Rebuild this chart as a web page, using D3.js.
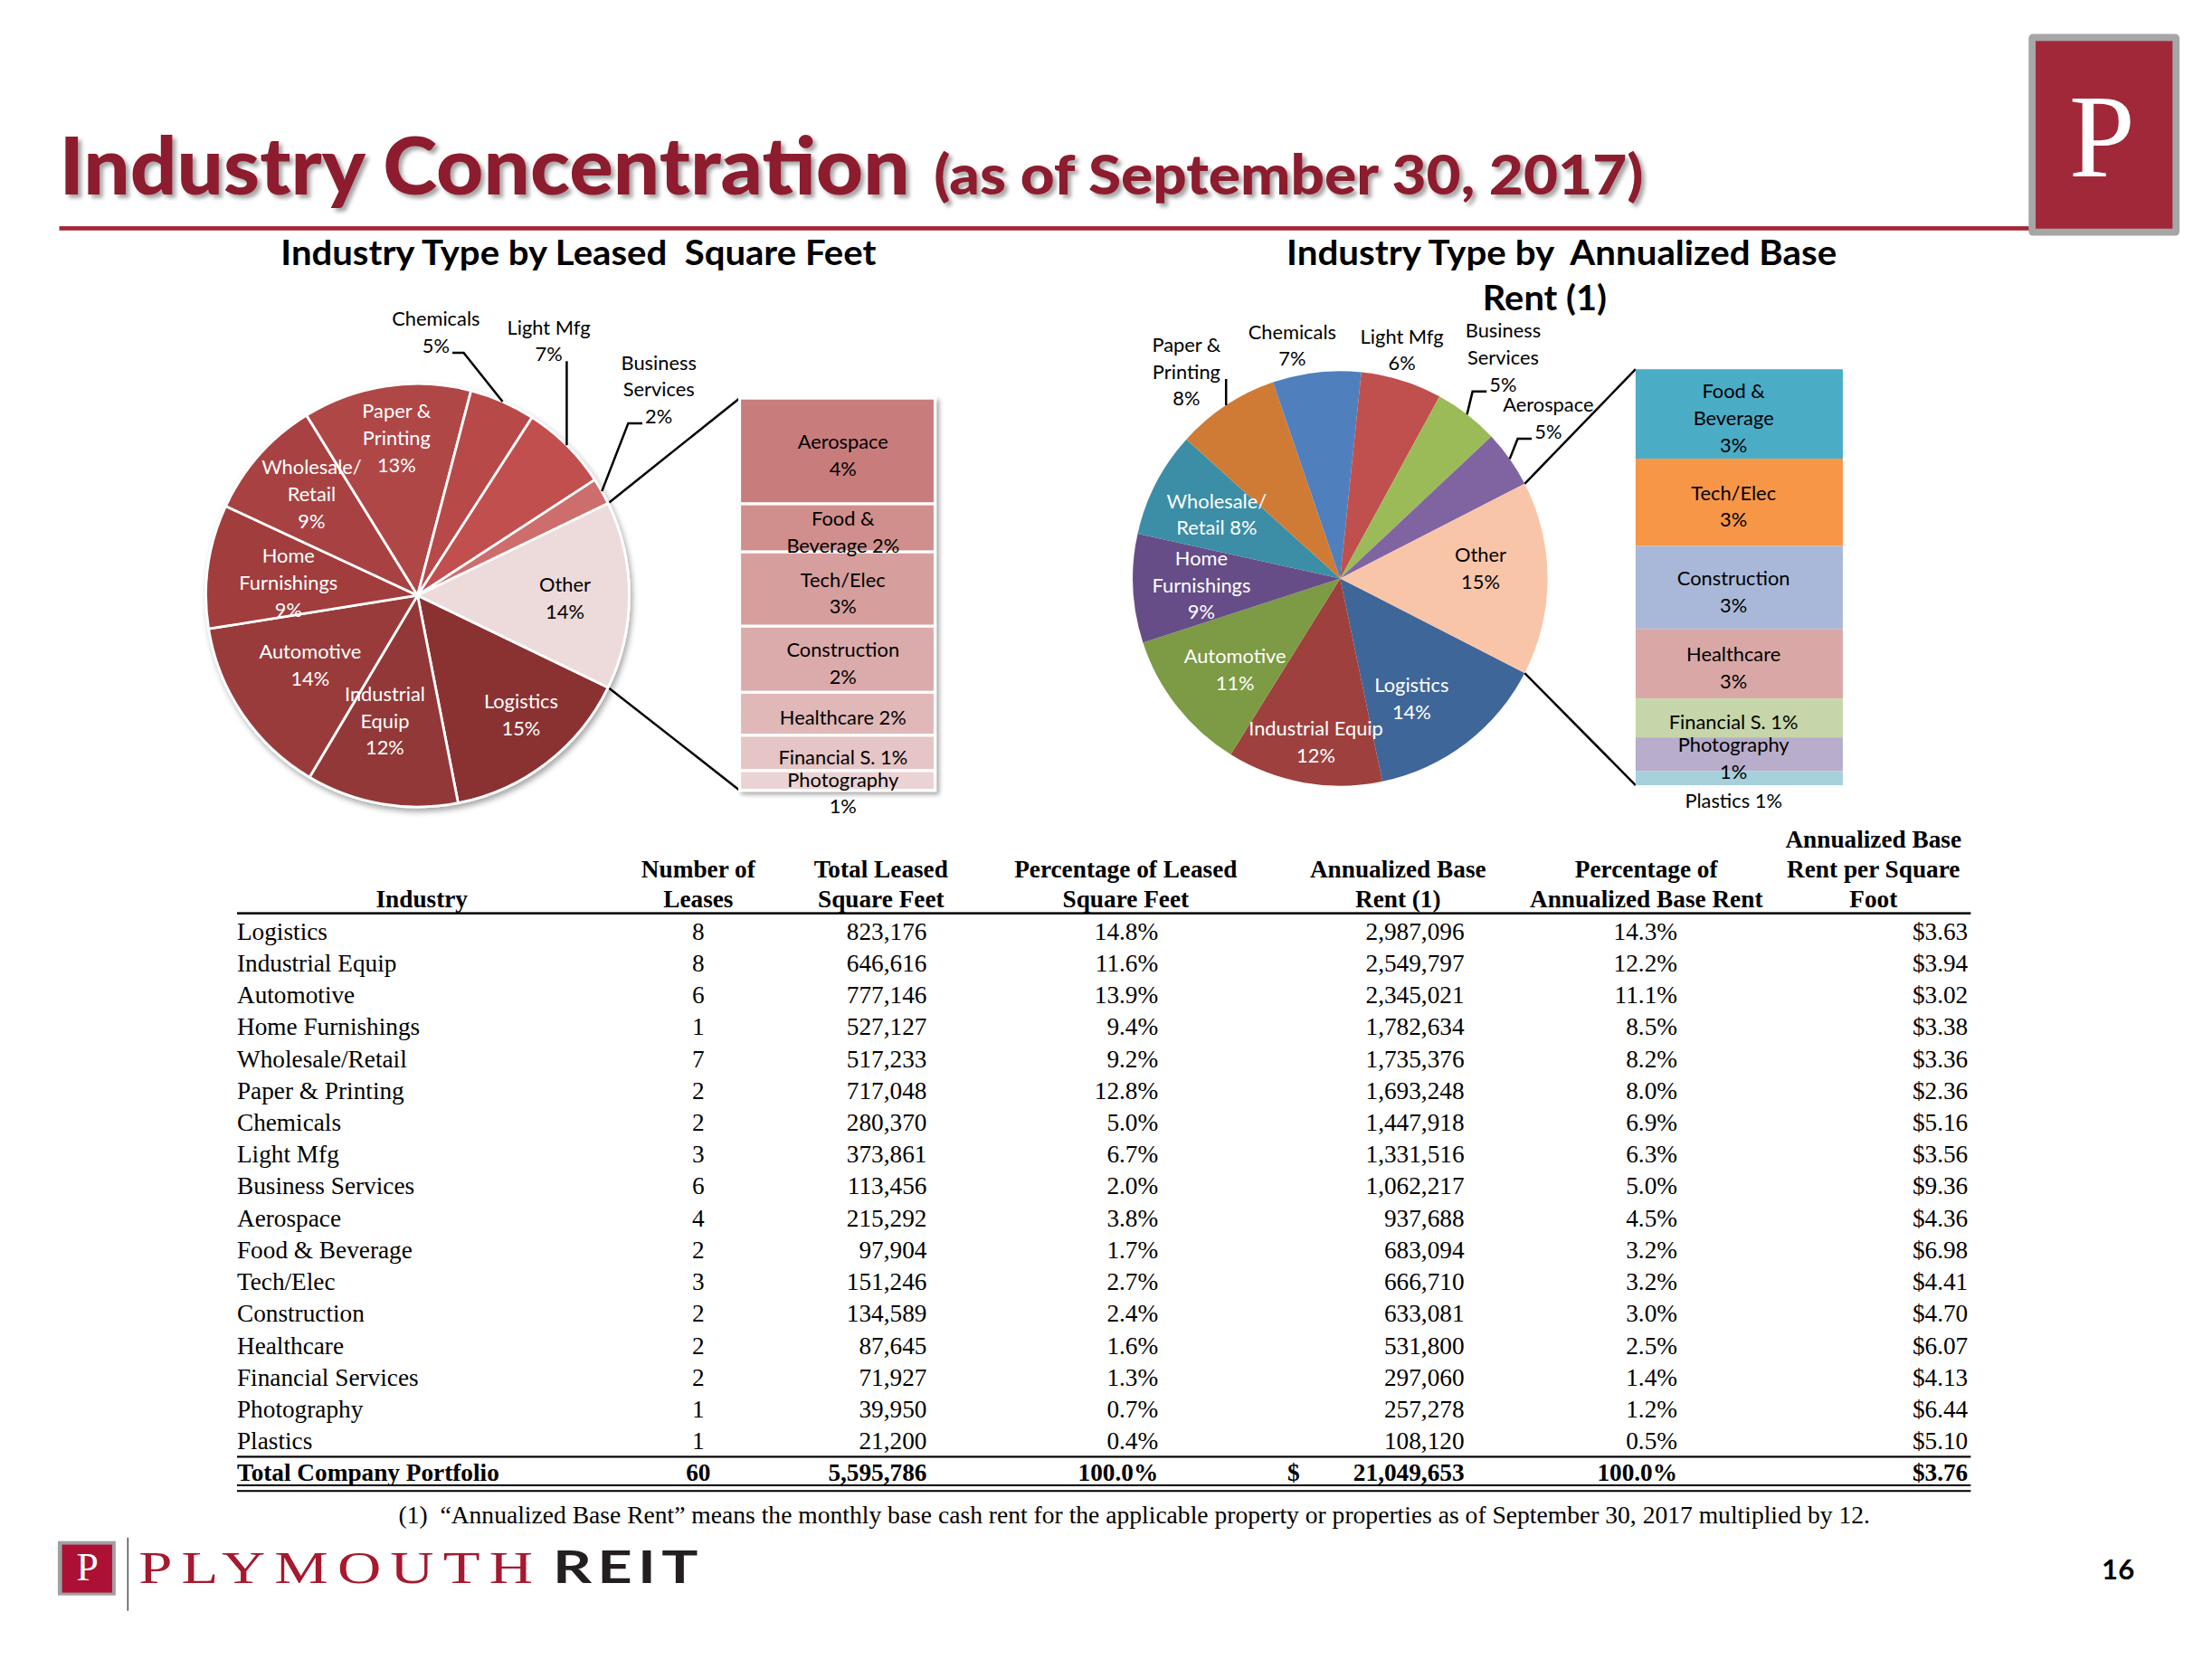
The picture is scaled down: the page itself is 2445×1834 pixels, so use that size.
<!DOCTYPE html>
<html>
<head>
  <meta charset="utf-8">
  <title>Industry Concentration</title>
  <script src="https://d3js.org/d3.v7.min.js"></script>
  <style>
    body { margin: 0; background: #fff; }
    svg { display: block; }
    text { white-space: pre; }
  </style>
</head>
<body>
<svg id="page"></svg>
<script>
// ---- table data (as printed) ----
var industries = ["Logistics", "Industrial Equip", "Automotive", "Home Furnishings", "Wholesale/Retail",
  "Paper & Printing", "Chemicals", "Light Mfg", "Business Services", "Aerospace", "Food & Beverage",
  "Tech/Elec", "Construction", "Healthcare", "Financial Services", "Photography", "Plastics"];
var leases  = [8, 8, 6, 1, 7, 2, 2, 3, 6, 4, 2, 3, 2, 2, 2, 1, 1];
var sqft    = [823176, 646616, 777146, 527127, 517233, 717048, 280370, 373861, 113456, 215292, 97904,
  151246, 134589, 87645, 71927, 39950, 21200];
var sqftPct = [14.8, 11.6, 13.9, 9.4, 9.2, 12.8, 5.0, 6.7, 2.0, 3.8, 1.7, 2.7, 2.4, 1.6, 1.3, 0.7, 0.4];
var abr     = [2987096, 2549797, 2345021, 1782634, 1735376, 1693248, 1447918, 1331516, 1062217, 937688,
  683094, 666710, 633081, 531800, 297060, 257278, 108120];
var abrPct  = [14.3, 12.2, 11.1, 8.5, 8.2, 8.0, 6.9, 6.3, 5.0, 4.5, 3.2, 3.2, 3.0, 2.5, 1.4, 1.2, 0.5];
var abrPsf  = [3.63, 3.94, 3.02, 3.38, 3.36, 2.36, 5.16, 3.56, 9.36, 4.36, 6.98, 4.41, 4.70, 6.07, 4.13, 6.44, 5.10];
var totalRow = [60, 5595786, 100.0, 21049653, 100.0, 3.76];

var headers = [["Industry"], ["Number of", "Leases"], ["Total Leased", "Square Feet"],
  ["Percentage of Leased", "Square Feet"], ["Annualized Base", "Rent (1)"],
  ["Percentage of", "Annualized Base Rent"], ["Annualized Base", "Rent per Square", "Foot"]];

// ---- chart labels (text) ----
var sqftPieLabels = [["Logistics", "15%"], ["Industrial", "Equip", "12%"], ["Automotive", "14%"],
  ["Home", "Furnishings", "9%"], ["Wholesale/", "Retail", "9%"], ["Paper &", "Printing", "13%"],
  ["Chemicals", "5%"], ["Light Mfg", "7%"], ["Business", "Services", "2%"], ["Other", "14%"]];
var sqftBarLabels = [["Aerospace", "4%"], ["Food &", "Beverage 2%"], ["Tech/Elec", "3%"],
  ["Construction", "2%"], ["Healthcare 2%"], ["Financial S. 1%"], ["Photography", "1%"]];
var abrPieLabels = [["Logistics", "14%"], ["Industrial Equip", "12%"], ["Automotive", "11%"],
  ["Home", "Furnishings", "9%"], ["Wholesale/", "Retail 8%"], ["Paper &", "Printing", "8%"],
  ["Chemicals", "7%"], ["Light Mfg", "6%"], ["Business", "Services", "5%"], ["Aerospace", "5%"],
  ["Other", "15%"]];
var abrBarLabels = [["Food &", "Beverage", "3%"], ["Tech/Elec", "3%"], ["Construction", "3%"],
  ["Healthcare", "3%"], ["Financial S. 1%"], ["Photography", "1%"], ["Plastics 1%"]];

// colours
var sqftPieColors = ["#8a3333", "#933838", "#9a3b3b", "#a13e3e", "#a84242", "#b04646", "#b84a4a",
  "#c0504d", "#cd6e6c", "#eddada"];
var sqftBarColors = ["#c97c7b", "#d08f8d", "#d69e9d", "#dbabab", "#e0b8b8", "#e5c5c5", "#ebd3d3"];
var abrPieColors = ["#3f6699", "#9e403e", "#7d9a44", "#664d87", "#3b8ea5", "#cf7b36", "#4f80bd",
  "#c0504d", "#9bbb59", "#8064a2", "#f9c5a9"];
var abrBarColors = ["#4bacc6", "#f79646", "#a9b8d8", "#d9a8a6", "#c6d6aa", "#b8adca", "#a5d0dc"];

var W = 1568, H = 1176;
var svg = d3.select("#page")
  .attr("width", 2445).attr("height", 1834)
  .attr("viewBox", "0 0 " + W + " " + H)
  .style("font-family", "Lato, 'Open Sans', sans-serif");
svg.append("rect").attr("width", W).attr("height", H).attr("fill", "#fff");

var defs = svg.append("defs");
function shadow(id, dx, dy, sd, op) {
  var f = defs.append("filter").attr("id", id)
    .attr("x", "-20%").attr("y", "-20%").attr("width", "140%").attr("height", "140%");
  f.append("feDropShadow").attr("dx", dx).attr("dy", dy).attr("stdDeviation", sd)
    .attr("flood-color", "#000").attr("flood-opacity", op);
}
shadow("titleShadow", 2.5, 2.5, 1.3, 0.35);
shadow("pieShadow", 1.5, 2.5, 2.2, 0.35);
shadow("barShadow", 2, 2, 1.8, 0.35);

// ---- page title ----
svg.append("text").attr("x", 42).attr("y", 138)
  .attr("font-size", 56).attr("font-weight", 900).attr("fill", "#8c1d2f")
  .attr("textLength", 603).attr("lengthAdjust", "spacingAndGlyphs")
  .attr("filter", "url(#titleShadow)")
  .text("Industry Concentration");
svg.append("text").attr("x", 662).attr("y", 138)
  .attr("font-size", 39).attr("font-weight", 900).attr("fill", "#8c1d2f")
  .attr("textLength", 503).attr("lengthAdjust", "spacingAndGlyphs")
  .attr("filter", "url(#titleShadow)")
  .text("(as of September 30, 2017)");
svg.append("rect").attr("x", 42).attr("y", 160.3).attr("width", 1398).attr("height", 3).attr("fill", "#a32638");

// corner logo
svg.append("rect").attr("x", 1438).attr("y", 24).attr("width", 107).attr("height", 143).attr("rx", 3).attr("fill", "#a6a6a6");
svg.append("rect").attr("x", 1443).attr("y", 29).attr("width", 97).attr("height", 133).attr("fill", "#a02838");
svg.append("text").attr("x", 1490).attr("y", 125).attr("text-anchor", "middle")
  .attr("font-family", "'Liberation Serif', 'DejaVu Serif', serif").attr("font-size", 84)
  .attr("fill", "#fff").text("P");

// chart titles
svg.append("text").attr("x", 199).attr("y", 188).attr("font-size", 24).attr("font-weight", 700)
  .attr("textLength", 422).attr("lengthAdjust", "spacingAndGlyphs")
  .text("Industry Type by Leased  Square Feet");
svg.append("text").attr("x", 912).attr("y", 188).attr("font-size", 24).attr("font-weight", 700)
  .attr("textLength", 390).attr("lengthAdjust", "spacingAndGlyphs")
  .text("Industry Type by  Annualized Base");
svg.append("text").attr("x", 1051).attr("y", 220).attr("font-size", 24).attr("font-weight", 700)
  .attr("textLength", 88).attr("lengthAdjust", "spacingAndGlyphs")
  .text("Rent (1)");

// multi-line centred label
function block(g, lines, x, y, fill) {
  var lh = 19;
  var t = g.append("g").attr("font-size", 14).attr("fill", fill);
  lines.forEach(function(s, k) {
    t.append("text").attr("x", x).attr("y", y + (k - (lines.length - 1) / 2) * lh)
      .attr("dy", "0.35em").attr("text-anchor", "middle").text(s);
  });
  return t;
}

// ---- pie of pie ----
function pieOfPie(o) {
  var g = svg.append("g");
  var total = d3.sum(o.values);
  var otherAngle = o.values[o.values.length - 1] / total * 2 * Math.PI;
  var start = Math.PI / 2 + otherAngle / 2;   // "Other" centred on the right
  var arcs = d3.pie().sort(null).startAngle(start).endAngle(start + 2 * Math.PI)(o.values);
  var color = d3.scaleOrdinal().domain(d3.range(o.values.length)).range(o.colors);
  var arc = d3.arc().innerRadius(0).outerRadius(o.r);
  var labelArc = d3.arc().innerRadius(o.r * 0.67).outerRadius(o.r * 0.67);
  function pt(a, rr) { return [o.cx + rr * Math.sin(a), o.cy - rr * Math.cos(a)]; }

  // connector lines to the bar
  var p0 = pt(Math.PI / 2 - otherAngle / 2, o.r), p1 = pt(Math.PI / 2 + otherAngle / 2, o.r);
  var y = d3.scaleLinear().domain([0, d3.sum(o.barValues)]).range([o.barTop, o.barBottom]);
  g.append("path")
    .attr("d", "M" + p0 + "L" + [o.barX, y(0)] + "M" + p1 + "L" + [o.barX, y(d3.sum(o.barValues))])
    .attr("stroke", "#000").attr("stroke-width", 1.6).attr("fill", "none");

  var pg = g.append("g").attr("transform", "translate(" + o.cx + "," + o.cy + ")");
  if (o.shadow) pg.attr("filter", "url(#pieShadow)");
  pg.selectAll("path").data(arcs).join("path")
    .attr("d", arc)
    .attr("fill", function(d, i) { return color(i); })
    .attr("stroke", o.sliceStroke ? "#fff" : "none")
    .attr("stroke-width", o.sliceStroke ? 1.8 : 0)
    .attr("stroke-linejoin", "round");

  // stacked bar of the split-out items
  var cum = d3.cumsum(o.barValues);
  var bars = o.barValues.map(function(v, i) { return { i: i, y0: i ? cum[i - 1] : 0, y1: cum[i] }; });
  var bg = g.append("g");
  if (o.shadow) bg.attr("filter", "url(#barShadow)");
  bg.selectAll("rect").data(bars).join("rect")
    .attr("x", o.barX).attr("width", o.barW)
    .attr("y", function(d) { return y(d.y0); })
    .attr("height", function(d) { return y(d.y1) - y(d.y0); })
    .attr("fill", function(d) { return o.barColors[d.i]; })
    .attr("stroke", o.barStroke ? "#fff" : "none").attr("stroke-width", o.barStroke ? 2 : 0);

  bars.forEach(function(d) {
    var lab = o.barLabels[d.i];
    var nudge = o.barNudge[lab[0]] || 0;
    block(g, lab, o.barX + o.barW / 2 + o.barLabelDx, (y(d.y0) + y(d.y1)) / 2 + 3 + nudge, "#000");
  });

  // slice labels
  arcs.forEach(function(d, i) {
    var lab = o.labels[i];
    var out = o.outside[lab[0]];
    if (!out) {
      var c = labelArc.centroid(d);
      var nd = o.insideNudge[lab[0]] || [0, 0];
      var fill = d3.hsl(color(i)).l > 0.7 ? "#000" : "#fff";
      block(g, lab, o.cx + c[0] + nd[0], o.cy + c[1] + nd[1], fill);
      return;
    }
    var bx = o.cx + out[0], by = o.cy + out[1];
    var t = block(g, lab, bx, by, "#000");
    var mid = (d.startAngle + d.endAngle) / 2;
    var e = pt(mid, o.r);
    if (out[2] === "v") {
      var ly = by + (out[3] - (lab.length - 1) / 2) * 19 + 5;
      g.append("line").attr("x1", e[0]).attr("x2", e[0]).attr("y1", ly).attr("y2", e[1])
        .attr("stroke", "#000").attr("stroke-width", 1.6);
    } else if (out[2] === "elbow") {
      var last = t.selectAll("text").nodes().pop();
      var w = last.getComputedTextLength();
      var yy = by + ((lab.length - 1) / 2) * 19 + 5;
      var sx = e[0] > bx ? bx + w / 2 + 2 : bx - w / 2 - 2;
      var ex = e[0] > bx ? sx + 8 : sx - 10;
      g.append("path").attr("d", "M" + [sx, yy] + "L" + [ex, yy] + "L" + e)
        .attr("stroke", "#000").attr("stroke-width", 1.6).attr("fill", "none");
    }
  });
}

// left: leased square feet (Plastics is not in this chart)
var sqftOther = sqft.slice(9, 16);
pieOfPie({
  cx: 296, cy: 422, r: 150,
  values: sqft.slice(0, 9).concat([d3.sum(sqftOther)]),
  colors: sqftPieColors, labels: sqftPieLabels,
  barValues: sqftOther, barColors: sqftBarColors, barLabels: sqftBarLabels,
  barX: 524.3, barW: 138.5, barTop: 282.2, barBottom: 560.2, barLabelDx: 4,
  barNudge: { "Photography": 6 },
  insideNudge: {
    "Logistics": [12, 5], "Industrial": [-6, -10], "Automotive": [7, -7], "Home": [8, 5],
    "Wholesale/": [0, -5], "Paper &": [0, -12], "Other": [4, 2]
  },
  outside: {
    "Chemicals": [13, -186.5, "elbow"],
    "Light Mfg": [93, -180.5, "v", 1],
    "Business": [171, -146, "elbow"]
  },
  shadow: true, sliceStroke: true, barStroke: true
});

// right: annualized base rent
var abrOther = abr.slice(10, 17);
pieOfPie({
  cx: 950, cy: 410, r: 147,
  values: abr.slice(0, 10).concat([d3.sum(abrOther)]),
  colors: abrPieColors, labels: abrPieLabels,
  barValues: abrOther, barColors: abrBarColors, barLabels: abrBarLabels,
  barX: 1159.4, barW: 146.9, barTop: 261.7, barBottom: 556.6, barLabelDx: -4,
  barNudge: { "Plastics 1%": 13 },
  insideNudge: {
    "Logistics": [-9, 7], "Industrial Equip": [0, 19], "Automotive": [3, 4], "Other": [1, -7]
  },
  outside: {
    "Paper &": [-109, -146.4, "v", 1],
    "Chemicals": [-34, -165.2, "none"],
    "Light Mfg": [43.8, -162, "none"],
    "Business": [115.5, -156.5, "elbow"],
    "Aerospace": [147.5, -113.5, "elbow"]
  },
  shadow: false, sliceStroke: false, barStroke: false
});

// ---- table ----
var tg = svg.append("g")
  .attr("font-family", "'Liberation Serif', 'Times New Roman', serif")
  .attr("font-size", 17.5).attr("fill", "#000");
var headCenters = [299, 495, 624.5, 798, 991, 1167, 1328];
headers.forEach(function(h, c) {
  h.forEach(function(s, k) {
    tg.append("text").attr("x", headCenters[c]).attr("y", 643 - (h.length - 1 - k) * 21)
      .attr("text-anchor", "middle").attr("font-weight", 700).text(s);
  });
});

var rowY = d3.scalePoint().domain(d3.range(industries.length + 1)).range([666, 1050]);
var fmtInt = d3.format(",");
var pct = function(v) { return v.toFixed(1) + "%"; };
var dol = function(v) { return "$" + v.toFixed(2); };
var cols = [
  { x: 495, anchor: "middle", vals: leases, f: String },
  { x: 657, anchor: "end", vals: sqft, f: fmtInt },
  { x: 821, anchor: "end", vals: sqftPct, f: pct },
  { x: 1038, anchor: "end", vals: abr, f: fmtInt },
  { x: 1189, anchor: "end", vals: abrPct, f: pct },
  { x: 1395, anchor: "end", vals: abrPsf, f: dol }
];
var n = industries.length;
tg.selectAll("text.ind").data(industries).join("text").attr("class", "ind")
  .attr("x", 168).attr("y", function(d, i) { return rowY(i); }).text(function(d) { return d; });
cols.forEach(function(c, ci) {
  tg.selectAll("text.c" + ci).data(c.vals).join("text").attr("class", "c" + ci)
    .attr("x", c.x).attr("y", function(d, i) { return rowY(i); })
    .attr("text-anchor", c.anchor).text(function(d) { return c.f(d); });
  tg.append("text").attr("x", c.x).attr("y", rowY(n)).attr("text-anchor", c.anchor)
    .attr("font-weight", 700).text(c.f(totalRow[ci]));
});
tg.append("text").attr("x", 168).attr("y", rowY(n)).attr("font-weight", 700).text("Total Company Portfolio");
tg.append("text").attr("x", 917).attr("y", rowY(n)).attr("text-anchor", "middle").attr("font-weight", 700).text("$");

tg.append("rect").attr("x", 168).attr("y", 646.6).attr("width", 1229).attr("height", 1.6);
tg.append("rect").attr("x", 168).attr("y", 1032).attr("width", 1229).attr("height", 1.4);
tg.append("rect").attr("x", 168).attr("y", 1052.3).attr("width", 1229).attr("height", 1.3);
tg.append("rect").attr("x", 168).attr("y", 1056.3).attr("width", 1229).attr("height", 1.3);

tg.append("text").attr("x", 282.5).attr("y", 1080).attr("font-size", 17)
  .attr("textLength", 1043).attr("lengthAdjust", "spacingAndGlyphs")
  .text("(1)  \u201cAnnualized Base Rent\u201d means the monthly base cash rent for the applicable property or properties as of September 30, 2017 multiplied by 12.");

// ---- footer ----
svg.append("rect").attr("x", 41).attr("y", 1092.5).attr("width", 41).attr("height", 38.5).attr("fill", "#a0a0a0");
svg.append("rect").attr("x", 44).attr("y", 1095).attr("width", 35.5).attr("height", 34).attr("fill", "#ac1035");
svg.append("text").attr("x", 62).attr("y", 1120.5).attr("text-anchor", "middle")
  .attr("font-family", "'Liberation Serif', serif").attr("font-size", 28).attr("fill", "#fff").text("P");
svg.append("line").attr("x1", 90.6).attr("x2", 90.6).attr("y1", 1090).attr("y2", 1142)
  .attr("stroke", "#333").attr("stroke-width", 0.8);
svg.append("text").attr("x", 98.3).attr("y", 1122.5)
  .attr("font-family", "'Liberation Serif', serif").attr("font-size", 33).attr("fill", "#a6192e")
  .attr("letter-spacing", 5)
  .attr("textLength", 286).attr("lengthAdjust", "spacingAndGlyphs").text("PLYMOUTH");
svg.append("text").attr("x", 391.8).attr("y", 1122.5)
  .attr("font-size", 32).attr("font-weight", 700).attr("fill", "#231f20")
  .attr("letter-spacing", 3)
  .attr("textLength", 107).attr("lengthAdjust", "spacingAndGlyphs").text("REIT");
svg.append("text").attr("x", 1513).attr("y", 1119.5).attr("text-anchor", "end")
  .attr("font-size", 20).attr("font-weight", 700).text("16");
</script>
</body>
</html>
